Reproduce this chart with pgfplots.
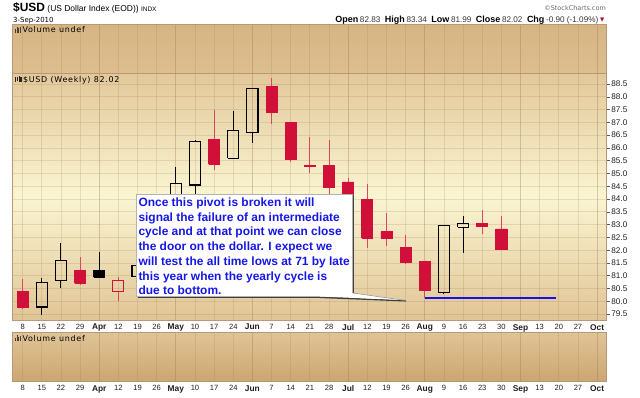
\documentclass[border=0pt]{standalone}
\usepackage{fontspec}
\setmainfont{Liberation Sans}
\newfontfamily\dejavu{DejaVu Sans}
\newfontfamily\vfont[LetterSpace=9]{DejaVu Sans}
\usepackage{pgfplots}
\pgfplotsset{compat=1.18}
\definecolor{frame}{RGB}{186,152,118}
\definecolor{candred}{RGB}{208,16,56}
\definecolor{wickred}{RGB}{222,70,96}
\definecolor{gridc}{RGB}{160,120,75}
\definecolor{txt}{RGB}{30,30,30}
\definecolor{callblue}{RGB}{22,22,232}
\definecolor{lineblue}{RGB}{20,20,225}
\definecolor{volTop}{RGB}{214,181,132}
\definecolor{volBot}{RGB}{221,190,143}
\definecolor{mainTop}{RGB}{226,200,154}
\definecolor{mainMid}{RGB}{250,245,210}
\definecolor{mainBot}{RGB}{224,197,150}
\definecolor{lvTop}{RGB}{224,196,150}
\definecolor{lvBot}{RGB}{204,166,114}
\newcommand\volicon{{\color{black!75}\rule{1.1bp}{3.5bp}\hspace{0.5bp}\rule{1.1bp}{6bp}\hspace{0.5bp}\rule{1.1bp}{4.5bp}\hspace{0.5bp}\rule{1.1bp}{5.5bp}}}
\newcommand\candicon{{\color{black!85}\rule{1.3bp}{5.5bp}\hspace{0.4bp}\raisebox{1bp}{\rule{1.3bp}{4bp}}\hspace{0.4bp}\rule{1.3bp}{6bp}\hspace{0.4bp}\raisebox{0.5bp}{\rule{1.3bp}{4.5bp}}}}
\newcommand\mon[1]{{\fontsize{8.4}{9}\selectfont\bfseries #1}}
\newcommand\hb[1]{{\fontsize{9}{10}\selectfont\bfseries #1}}
\newcommand\hn[1]{{\fontsize{8.2}{9}\selectfont\color{black!80}#1}}
\pgfplotsset{
 panel/.style={
   scale only axis, width=593.9bp, xmin=-0.512, xmax=30.50,
   anchor=north west,
   axis line style={draw=frame, line width=0.9bp},
   xtick={0,...,30},
   xmajorgrids,
   major grid style={draw=gridc, opacity=0.2, line width=0.8bp},
   extra x ticks={4,8,12,17,21,26,30},
   extra x tick labels={},
   extra x tick style={major tick length=0pt, grid style={draw=gridc, opacity=0.42, line width=0.9bp}},
   xtick style={draw=none},
   tick align=outside,
   major tick length=3bp,
   xticklabels={8,15,22,29,\mon{Apr},12,19,26,\mon{May},10,17,24,\mon{Jun},7,14,21,28,\mon{Jul},12,19,26,\mon{Aug},9,16,23,30,\mon{Sep},13,20,27,\mon{Oct}},
   xticklabel style={font=\fontsize{7.6}{8}\selectfont, text=txt, inner sep=1bp},
   /pgf/number format/assume math mode=true,
 },
}
\begin{document}
\begin{tikzpicture}
\path[use as bounding box] (0,0) rectangle (640bp,-398bp);
% header
\node[anchor=base west, inner sep=0] at (13bp,-11.5bp) {\fontsize{12}{12}\selectfont\bfseries\$USD\fontsize{8.5}{9}\selectfont\mdseries\ (US Dollar Index (EOD))\ \fontsize{6.5}{7}\selectfont INDX};
\node[anchor=base west, inner sep=0] at (13bp,-22bp) {\dejavu\fontsize{7}{8}\selectfont 3-Sep-2010};
\node[anchor=base east, inner sep=0, text=black!60] at (606bp,-10bp) {\dejavu\fontsize{6.5}{7}\selectfont ©StockCharts.com};
\node[anchor=base east, inner sep=0] at (598.5bp,-22bp) {\hb{Open}\,\hn{82.83}\hspace{4.5bp}\hb{High}\,\hn{83.34}\hspace{4.5bp}\hb{Low}\,\hn{81.99}\hspace{4.5bp}\hb{Close}\,\hn{82.02}\hspace{4.5bp}\hb{Chg}\,\hn{-0.90 (-1.09\%)}};
\node[anchor=base west, inner sep=0, text=candred!80!black] at (600bp,-21.5bp) {\dejavu\fontsize{5.5}{6}\selectfont ▼};

% top volume panel
\begin{axis}[panel, at={(12.8bp,-24.5bp)}, height=48.8bp, ymin=0, ymax=1, ytick=\empty,
  xticklabels={},
  axis background/.style={shade, top color=volTop, bottom color=volBot}]
\addplot[draw=none] coordinates {(0,0.5)};
\end{axis}

% main price panel
\begin{axis}[panel, at={(12.8bp,-73.3bp)}, height=246.7bp,
  ymin=79.27, ymax=88.92,
  ytick={79.5,80,80.5,81,81.5,82,82.5,83,83.5,84,84.5,85,85.5,86,86.5,87,87.5,88,88.5},
  ymajorgrids, ytick pos=right, yticklabel pos=right,
  ytick style={draw=black!65, line width=0.6bp},
  yticklabel={\pgfmathprintnumber[fixed,fixed zerofill,precision=1,assume math mode=true]{\tick}},
  yticklabel style={font=\fontsize{8.2}{9}\selectfont, text=txt, inner sep=1.5bp},
  axis background/.style={shade, top color=mainTop, bottom color=mainBot, middle color=mainMid}]
% red wicks
\addplot[draw=wickred, line width=0.9bp, unbounded coords=jump] coordinates {
(0,80.87)(0,79.70)(0,nan)
(3,81.73)(3,80.62)(3,nan)
(5,80.95)(5,80.80)(5,nan)(5,80.37)(5,80.02)(5,nan)
(10,87.48)(10,85.14)(10,nan)
(13,88.72)(13,86.94)(13,nan)
(14,87.03)(14,85.46)(14,nan)
(15,86.44)(15,85.01)(15,nan)
(16,86.31)(16,84.20)(16,nan)
(17,84.83)(17,83.80)(17,nan)
(18,84.58)(18,82.07)(18,nan)
(19,83.44)(19,82.17)(19,nan)
(20,82.59)(20,81.45)(20,nan)
(21,81.58)(21,80.15)(21,nan)
(24,83.57)(24,82.63)(24,nan)
(25,83.34)(25,81.99)
};
% black wicks
\addplot[draw=black, line width=0.9bp, unbounded coords=jump] coordinates {
(1,80.91)(1,80.74)(1,nan)(1,79.78)(1,79.45)(1,nan)
(2,82.28)(2,81.60)(2,nan)(2,80.83)(2,80.52)(2,nan)
(4,81.93)(4,80.94)(4,nan)
(6,81.70)(6,81.41)(6,nan)(6,80.96)(6,80.85)(6,nan)
(7,82.30)(7,81.90)(7,nan)(7,81.41)(7,81.05)(7,nan)
(8,85.26)(8,84.62)(8,nan)(8,81.90)(8,81.70)(8,nan)
(9,86.30)(9,86.24)(9,nan)(9,84.55)(9,84.00)(9,nan)
(11,87.46)(11,86.70)(11,nan)(11,85.59)(11,85.55)(11,nan)
(12,88.36)(12,88.32)(12,nan)(12,86.60)(12,86.18)(12,nan)
(22,82.99)(22,82.97)(22,nan)(22,80.35)(22,80.27)(22,nan)
(23,83.34)(23,83.05)(23,nan)(23,82.90)(23,81.88)
};
% red filled bodies
\addplot[draw=candred, fill=candred, line width=0.8bp, unbounded coords=jump] coordinates {
(-0.29,79.78)(0.29,79.78)(0.29,80.37)(-0.29,80.37)(-0.29,79.78)(0,nan)
(2.71,80.70)(3.29,80.70)(3.29,81.22)(2.71,81.22)(2.71,80.70)(3,nan)
(9.71,85.36)(10.29,85.36)(10.29,86.34)(9.71,86.34)(9.71,85.36)(10,nan)
(12.71,87.40)(13.29,87.40)(13.29,88.42)(12.71,88.42)(12.71,87.40)(13,nan)
(13.71,85.57)(14.29,85.57)(14.29,86.99)(13.71,86.99)(13.71,85.57)(14,nan)
(14.71,85.27)(15.29,85.27)(15.29,85.31)(14.71,85.31)(14.71,85.27)(15,nan)
(15.71,84.46)(16.29,84.46)(16.29,85.33)(15.71,85.33)(15.71,84.46)(16,nan)
(16.71,83.96)(17.29,83.96)(17.29,84.67)(16.71,84.67)(16.71,83.96)(17,nan)
(17.71,82.46)(18.29,82.46)(18.29,83.99)(17.71,83.99)(17.71,82.46)(18,nan)
(18.71,82.46)(19.29,82.46)(19.29,82.74)(18.71,82.74)(18.71,82.46)(19,nan)
(19.71,81.52)(20.29,81.52)(20.29,82.10)(19.71,82.10)(19.71,81.52)(20,nan)
(20.71,80.41)(21.29,80.41)(21.29,81.55)(20.71,81.55)(20.71,80.41)(21,nan)
(23.71,82.92)(24.29,82.92)(24.29,83.06)(23.71,83.06)(23.71,82.92)(24,nan)
(24.71,82.02)(25.29,82.02)(25.29,82.83)(24.71,82.83)(24.71,82.02)
};
% red hollow body
\addplot[draw=candred, line width=1bp] coordinates {
(4.71,80.37)(5.29,80.37)(5.29,80.80)(4.71,80.80)(4.71,80.37)
};
% black filled body
\addplot[draw=black, fill=black, line width=0.8bp] coordinates {
(3.71,80.94)(4.29,80.94)(4.29,81.20)(3.71,81.20)(3.71,80.94)
};
% black hollow bodies
\addplot[draw=black, line width=1.1bp, unbounded coords=jump] coordinates {
(0.71,79.78)(1.29,79.78)(1.29,80.74)(0.71,80.74)(0.71,79.78)(1,nan)
(1.71,80.83)(2.29,80.83)(2.29,81.60)(1.71,81.60)(1.71,80.83)(2,nan)
(5.71,80.96)(6.29,80.96)(6.29,81.41)(5.71,81.41)(5.71,80.96)(6,nan)
(6.71,81.41)(7.29,81.41)(7.29,81.90)(6.71,81.90)(6.71,81.41)(7,nan)
(7.71,81.90)(8.29,81.90)(8.29,84.62)(7.71,84.62)(7.71,81.90)(8,nan)
(8.71,84.55)(9.29,84.55)(9.29,86.24)(8.71,86.24)(8.71,84.55)(9,nan)
(10.71,85.59)(11.29,85.59)(11.29,86.70)(10.71,86.70)(10.71,85.59)(11,nan)
(11.71,86.60)(12.29,86.60)(12.29,88.32)(11.71,88.32)(11.71,86.60)(12,nan)
(21.71,80.35)(22.29,80.35)(22.29,82.97)(21.71,82.97)(21.71,80.35)(22,nan)
(22.71,82.90)(23.29,82.90)(23.29,83.05)(22.71,83.05)(22.71,82.90)
};
% support line
\addplot[draw=lineblue, line width=1.6bp] coordinates {(21,80.12)(27.85,80.12)};
\end{axis}

% lower volume panel
\begin{axis}[panel, at={(12.8bp,-332.3bp)}, height=49bp, ymin=0, ymax=1, ytick=\empty,
  axis background/.style={shade, top color=lvTop, bottom color=lvBot}]
\addplot[draw=none] coordinates {(0,0.5)};
\end{axis}

% callout
\fill[black!75] (137.8bp,-195.8bp) rectangle (354.3bp,-297.8bp);
\draw[black!75, line width=1.5bp] (320bp,-297.3bp) -- (406bp,-300.8bp);
\fill[white] (136bp,-194bp) rectangle (352.5bp,-296bp);
\draw[black!30, line width=0.5bp] (136bp,-194bp) rectangle (352.5bp,-296bp);
\fill[white] (320bp,-295.5bp) -- (352.5bp,-293bp) -- (405.5bp,-300.2bp) -- (320bp,-296.5bp) -- cycle;
\draw[black!45, line width=0.5bp] (352.5bp,-293bp) -- (406bp,-300.5bp);
\node[anchor=north west, inner sep=0, align=left, text=callblue, font=\fontsize{12}{14.8}\selectfont\bfseries] at (138.3bp,-197.5bp) {Once this pivot is broken it will\\signal the failure of an intermediate\\cycle and at that point we can close\\the door on the dollar. I expect we\\will test the all time lows at 71 by late\\this year when the yearly cycle is\\due to bottom.};

% panel labels
\node[anchor=base west, inner sep=0] at (15bp,-32.8bp) {\volicon\hspace{1.5bp}\vfont\fontsize{8}{9}\selectfont Volume undef};
\node[anchor=base west, inner sep=0] at (15bp,-82bp) {\candicon\hspace{1.5bp}\vfont\fontsize{8}{9}\selectfont \$USD (Weekly) 82.02};
\node[anchor=base west, inner sep=0] at (15bp,-341.2bp) {\volicon\hspace{1.5bp}\vfont\fontsize{8}{9}\selectfont Volume undef};
\end{tikzpicture}
\end{document}
